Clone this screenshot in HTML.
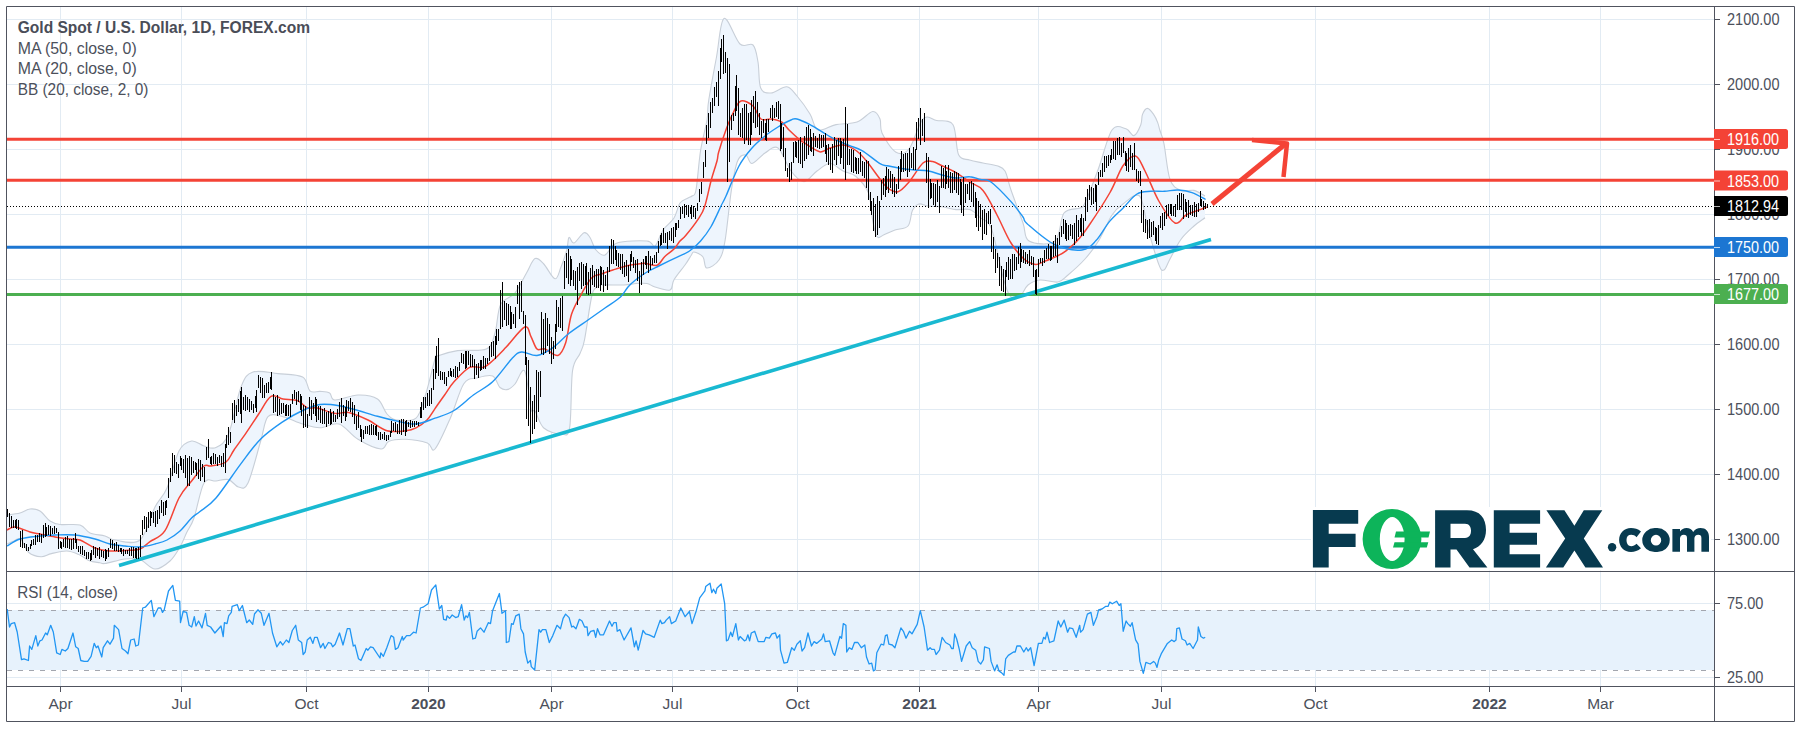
<!DOCTYPE html><html><head><meta charset="utf-8"><style>html,body{margin:0;padding:0;background:#fff;width:1803px;height:730px;overflow:hidden}svg{display:block}text{font-family:"Liberation Sans", sans-serif}</style></head><body>
<svg width="1803" height="730" viewBox="0 0 1803 730">
<rect x="0" y="0" width="1803" height="730" fill="#ffffff"/>
<path d="M60.5,7 V571 M60.5,572 V686 M181.5,7 V571 M181.5,572 V686 M306.5,7 V571 M306.5,572 V686 M428.5,7 V571 M428.5,572 V686 M551.5,7 V571 M551.5,572 V686 M672.5,7 V571 M672.5,572 V686 M797.5,7 V571 M797.5,572 V686 M919.5,7 V571 M919.5,572 V686 M1038.5,7 V571 M1038.5,572 V686 M1161.5,7 V571 M1161.5,572 V686 M1315.5,7 V571 M1315.5,572 V686 M1489.5,7 V571 M1489.5,572 V686 M1600.5,7 V571 M1600.5,572 V686 M7,19.5 H1714 M7,84.5 H1714 M7,149.5 H1714 M7,214.5 H1714 M7,279.5 H1714 M7,344.5 H1714 M7,409.5 H1714 M7,474.5 H1714 M7,539.5 H1714 M7,603.5 H1714 M7,677.5 H1714" stroke="#e2ebf3" stroke-width="1" fill="none"/>
<rect x="7" y="610" width="1707" height="60" fill="#e7f2fc"/>
<path d="M7,610.5 H1714 M7,670.5 H1714" stroke="#a3a6ae" stroke-width="1" stroke-dasharray="5,6" fill="none"/>
<path d="M7,515 C9.2,514.7 16.2,514 20,513 C23.8,512 26.7,509.3 30,509 C33.3,508.7 36.7,509 40,511 C43.3,513 46.7,518.8 50,521 C53.3,523.2 55,523.8 60,524.5 C65,525.2 75,523.6 80,525 C85,526.4 85.8,531.2 90,533 C94.2,534.8 100.8,534.8 105,536 C109.2,537.2 109.2,539.3 115,540 C120.8,540.7 133.3,545.5 140,540 C146.7,534.5 150.5,515.7 155,507 C159.5,498.3 163,497.3 167,488 C171,478.7 174.9,458.8 179,451 C183.1,443.2 187.4,441.8 191.6,441 C195.8,440.2 199.9,444.9 204,446 C208.1,447.1 211.9,449.5 216,447.5 C220.1,445.5 224.4,444.1 228.6,434 C232.8,423.9 236.9,397.3 241,387 C245.1,376.7 246.8,374.2 253,372 C259.2,369.8 269.7,372.8 278,373.6 C286.3,374.4 297.3,374.1 302.6,377 C307.9,379.9 307.1,388.6 310,391 C312.9,393.4 316.7,391.1 320,391.4 C323.3,391.7 327.1,391.6 329.6,393 C332.1,394.4 330.3,399.7 335,400 C339.7,400.3 350.9,395.2 358,395 C365.1,394.8 372.7,395.8 377.5,399 C382.3,402.2 383.8,410.5 387,414 C390.2,417.5 391.9,419.3 396.7,420 C401.5,420.7 411.2,422.4 416,418.2 C420.8,414 422.3,404.9 425.5,395 C428.7,385.1 433,365.3 435,358.8 C437,352.3 433.6,357.4 437.4,356 C441.1,354.6 449.4,351.8 457.5,350.6 C465.6,349.4 480.1,351.9 486.3,349 C492.6,346.1 492.6,340.4 495,333 C497.4,325.6 497.3,311.3 500.6,304.6 C503.9,297.9 510.7,298.3 515,293 C519.3,287.7 523.2,278.7 526.5,273 C529.8,267.3 532.1,260.1 535,258.6 C537.9,257.1 540.5,260.6 543.8,264 C547.1,267.4 552.1,278.3 555,278.8 C557.9,279.3 559,271.8 561,267 C563,262.2 565.5,254.9 566.8,250 C568.1,245.1 567.8,238.7 569,237.5 C570.2,236.3 571.5,243.8 574,243 C576.5,242.2 581.3,233.6 584,232.7 C586.7,231.8 588,234.6 590,237.5 C592,240.4 593.5,247.1 596,250 C598.5,252.9 601.5,256.2 605,255 C608.5,253.8 610,245.3 617,243 C624,240.7 640.7,240.5 647,241 C653.3,241.5 652.3,247.8 655,246 C657.7,244.2 659.8,234.7 663,230 C666.2,225.3 671.2,222.5 674,218 C676.8,213.5 677.7,206.3 680,203 C682.3,199.7 686,199.2 688,198 C690,196.8 690.7,197.3 692,196 C693.3,194.7 694.6,197.5 696,190 C697.4,182.5 698.7,162.7 700.5,151 C702.3,139.3 705.6,128.3 707,120 C708.4,111.7 707,111.5 708.6,101 C710.2,90.5 713.9,70.8 716.5,57 C719.1,43.2 720.1,20.7 724,18.5 C727.9,16.3 735.2,39.6 740,44 C744.8,48.4 750,42 753,45 C756,48 756.7,54.8 758,62 C759.3,69.2 758.5,82.8 760.7,88 C762.9,93.2 766.6,93.2 771,93 C775.4,92.8 782.5,86.3 786.8,86.8 C791.1,87.3 793.1,91.5 797,96 C800.9,100.5 806.5,108.3 810,114 C813.5,119.7 813.7,128.2 818,130 C822.3,131.8 829.5,125.9 836,124.6 C842.5,123.3 850.9,124.2 857,122 C863.1,119.8 868.9,112 872.7,111.5 C876.5,111 878.5,115.4 880,119 C881.5,122.6 879.4,127.5 882,133 C884.6,138.5 891.1,149.3 895.6,152 C900.1,154.7 904.4,154.5 909,149 C913.6,143.5 918.4,123.8 923,119 C927.6,114.2 931.7,119.5 936.7,120.5 C941.7,121.5 949.4,119 953,124.7 C956.6,130.4 955.8,148.9 958.6,154.8 C961.4,160.7 965.5,158.6 969.6,160 C973.7,161.4 978.4,162 983,163 C987.6,164 993.3,164.5 997,165.8 C1000.7,167.1 1002.7,167 1005,171 C1007.3,175 1008,181.3 1011,190 C1014,198.7 1020,214.5 1023,223 C1026,231.5 1023.7,238 1029,241 C1034.3,244 1049.2,245.7 1055,241 C1060.8,236.3 1059.8,218.5 1064,213 C1068.2,207.5 1076.5,209.7 1080,208 C1083.5,206.3 1081.9,209.6 1085,203 C1088.1,196.4 1094,180.7 1098.5,168.5 C1103,156.3 1107.4,136.6 1112,130 C1116.6,123.4 1122.3,127.9 1126,128.8 C1129.7,129.7 1131.5,136.3 1134,135.6 C1136.5,134.9 1139.4,128.2 1140.8,124.7 C1142.2,121.2 1141.4,117.1 1142.5,114.4 C1143.6,111.7 1145.6,108.4 1147.4,108.4 C1149.2,108.4 1151.9,112 1153.6,114.4 C1155.3,116.8 1156.7,120 1157.7,122.6 C1158.7,125.2 1158.8,126.5 1159.8,130 C1160.8,133.5 1162.3,135.6 1164,143.8 C1165.7,152.1 1167.2,171.7 1170,179.5 C1172.8,187.3 1176.7,188.6 1180.7,190.4 C1184.7,192.2 1190,189.5 1194,190.4 C1198,191.3 1203.2,195.1 1205,196 L1205,217.8  C1203.2,219.2 1198,222.3 1194,226 C1190,229.7 1184.7,234.2 1180.7,239.7 C1176.7,245.2 1172.8,253.9 1170,259 C1167.2,264.1 1165.9,269.1 1164,270 C1162.1,270.9 1161.5,271.3 1158.8,264.4 C1156.1,257.5 1151.2,240.2 1148,228.8 C1144.8,217.4 1143.8,200.1 1139.6,196 C1135.4,191.9 1127.6,200.8 1123,204 C1118.4,207.2 1116.1,208.8 1112,215 C1107.9,221.2 1103,233.7 1098.5,241 C1094,248.3 1090.1,253.3 1085,259 C1079.9,264.7 1072.5,271.2 1068,275 C1063.5,278.8 1062.7,281.2 1058,282 C1053.3,282.8 1045,279.5 1040,280 C1035,280.5 1031.3,282.3 1028,285 C1024.7,287.7 1023,294.2 1020,296 C1017,297.8 1012.9,299.5 1010,296 C1007.1,292.5 1005.6,286.2 1002.5,275 C999.4,263.8 995.2,238.3 991.5,228.8 C987.8,219.3 984.1,221 980.5,217.8 C976.9,214.6 973.7,211 969.6,209.6 C965.5,208.2 960.6,210.1 956,209.6 C951.4,209.1 946.7,207.4 942,206.8 C937.3,206.2 931.5,206.5 927.7,206 C923.9,205.5 921.5,203.2 919,204 C916.5,204.8 914.2,206.9 912.4,210.6 C910.6,214.3 910.9,222.8 908,226 C905.1,229.2 899,228.6 895,230 C891,231.4 887,233.5 884,234.7 C881,235.9 879.1,239.2 877.3,237 C875.4,234.8 874.4,228.9 872.9,221.6 C871.4,214.3 871.3,200.5 868.5,193 C865.7,185.5 860.2,180.2 856,176.5 C851.8,172.8 847.3,173.2 843,171 C838.7,168.8 834.3,163.5 830,163.5 C825.7,163.5 821.3,168 817,171 C812.7,174 808.3,181.7 804,181.7 C799.7,181.7 795.3,176.6 791,171 C786.7,165.4 782.3,151 778,148 C773.7,145 769.3,150.4 765,153 C760.7,155.6 755.2,163.2 752,163.5 C748.8,163.8 748.2,155.4 745.8,155 C743.4,154.6 740,155.2 737.6,161 C735.2,166.8 733.5,176.7 731.4,190 C729.3,203.3 727.1,229.3 725,241 C722.9,252.7 722,255.5 719,260 C716,264.5 709.4,268.5 706.7,268 C704,267.5 705.1,259.7 703,257 C700.9,254.3 695.9,252.3 694,252 C692.1,251.7 692.8,253 691.4,255 C690,257 688.6,259.9 685.7,264 C682.8,268.1 676.6,275.4 674,279.7 C671.4,284 673.2,288.8 670,290 C666.8,291.2 658.8,288.1 655,287 C651.2,285.9 650.2,284.1 647,283.5 C643.8,282.9 639.8,283.2 636,283.5 C632.2,283.8 629.8,284.8 624,285 C618.2,285.2 605.4,284.7 601,285 C596.6,285.3 599,285.3 597.5,287 C596,288.7 594.2,286.2 592,295 C589.8,303.8 586.5,330.1 584.5,339.8 C582.5,349.6 582,348.3 580,353.5 C578,358.7 574.2,358.6 572.5,371 C570.8,383.4 571.5,417.5 569.6,428 C567.7,438.5 565.3,434 561,434 C556.7,434 548.1,431.8 543.8,428 C539.5,424.2 537.1,414.2 535,411 C532.9,407.8 532.7,415.7 531,409 C529.3,402.3 527.4,375.2 524.7,371 C522,366.8 517.8,380.9 515,384 C512.2,387.1 510.5,388.8 508,389.4 C505.5,390 502.6,389.7 500,387.5 C497.4,385.3 496.4,377.6 492.6,376 C488.8,374.4 481.8,376.7 477,378 C472.2,379.3 468.2,377 463.8,383.7 C459.4,390.4 455.2,407.1 450.4,418 C445.6,428.9 438.8,444.8 435,449 C431.2,453.2 432.2,444.6 427.4,443 C422.6,441.4 412.4,439.6 406,439.3 C399.6,439 393.2,439.6 389,441.2 C384.8,442.8 386.2,449.3 381,449 C375.8,448.7 365,443.5 358,439.3 C351,435.1 345.3,425.9 339,424 C332.7,422.1 326.1,427.8 320,427.8 C313.9,427.8 308.8,425.9 302.6,424 C296.4,422.1 288.8,417.9 283,416.7 C277.2,415.5 271.7,412.6 268,416.7 C264.3,420.8 264,429.9 260.7,441 C257.4,452.1 251.7,475.3 248,483 C244.3,490.7 241.7,487.6 238.5,487 C235.3,486.4 232.3,480.6 228.6,479.6 C224.8,478.6 220.1,480.4 216,481 C211.9,481.6 207.7,476.8 204,483 C200.3,489.2 196.9,509.7 194,518 C191.1,526.3 189,527.8 186.7,532.6 C184.4,537.4 182.8,542.3 180,547 C177.2,551.7 174.2,557.3 170,561 C165.8,564.7 160,569.2 155,569 C150,568.8 145,561.2 140,559.5 C135,557.8 130.8,558.3 125,559 C119.2,559.7 109.2,562.9 105,563.5 C100.8,564.1 102.6,563.2 100,562.8 C97.4,562.3 92.9,562.2 89.4,560.8 C85.9,559.4 82.8,556.2 79,554.6 C75.2,553 71.4,551.2 66.8,551 C62.2,550.8 55.7,552.6 51.4,553.6 C47.1,554.6 44.8,556.9 41,556.7 C37.2,556.5 32.2,555.5 28.8,552.5 C25.4,549.5 23,540.9 20.5,539 C18,537.1 16.2,540.2 14,541 C11.8,541.8 8.2,543.5 7,544 Z" fill="#eef5fd" stroke="none"/>
<path d="M7,515 C9.2,514.7 16.2,514 20,513 C23.8,512 26.7,509.3 30,509 C33.3,508.7 36.7,509 40,511 C43.3,513 46.7,518.8 50,521 C53.3,523.2 55,523.8 60,524.5 C65,525.2 75,523.6 80,525 C85,526.4 85.8,531.2 90,533 C94.2,534.8 100.8,534.8 105,536 C109.2,537.2 109.2,539.3 115,540 C120.8,540.7 133.3,545.5 140,540 C146.7,534.5 150.5,515.7 155,507 C159.5,498.3 163,497.3 167,488 C171,478.7 174.9,458.8 179,451 C183.1,443.2 187.4,441.8 191.6,441 C195.8,440.2 199.9,444.9 204,446 C208.1,447.1 211.9,449.5 216,447.5 C220.1,445.5 224.4,444.1 228.6,434 C232.8,423.9 236.9,397.3 241,387 C245.1,376.7 246.8,374.2 253,372 C259.2,369.8 269.7,372.8 278,373.6 C286.3,374.4 297.3,374.1 302.6,377 C307.9,379.9 307.1,388.6 310,391 C312.9,393.4 316.7,391.1 320,391.4 C323.3,391.7 327.1,391.6 329.6,393 C332.1,394.4 330.3,399.7 335,400 C339.7,400.3 350.9,395.2 358,395 C365.1,394.8 372.7,395.8 377.5,399 C382.3,402.2 383.8,410.5 387,414 C390.2,417.5 391.9,419.3 396.7,420 C401.5,420.7 411.2,422.4 416,418.2 C420.8,414 422.3,404.9 425.5,395 C428.7,385.1 433,365.3 435,358.8 C437,352.3 433.6,357.4 437.4,356 C441.1,354.6 449.4,351.8 457.5,350.6 C465.6,349.4 480.1,351.9 486.3,349 C492.6,346.1 492.6,340.4 495,333 C497.4,325.6 497.3,311.3 500.6,304.6 C503.9,297.9 510.7,298.3 515,293 C519.3,287.7 523.2,278.7 526.5,273 C529.8,267.3 532.1,260.1 535,258.6 C537.9,257.1 540.5,260.6 543.8,264 C547.1,267.4 552.1,278.3 555,278.8 C557.9,279.3 559,271.8 561,267 C563,262.2 565.5,254.9 566.8,250 C568.1,245.1 567.8,238.7 569,237.5 C570.2,236.3 571.5,243.8 574,243 C576.5,242.2 581.3,233.6 584,232.7 C586.7,231.8 588,234.6 590,237.5 C592,240.4 593.5,247.1 596,250 C598.5,252.9 601.5,256.2 605,255 C608.5,253.8 610,245.3 617,243 C624,240.7 640.7,240.5 647,241 C653.3,241.5 652.3,247.8 655,246 C657.7,244.2 659.8,234.7 663,230 C666.2,225.3 671.2,222.5 674,218 C676.8,213.5 677.7,206.3 680,203 C682.3,199.7 686,199.2 688,198 C690,196.8 690.7,197.3 692,196 C693.3,194.7 694.6,197.5 696,190 C697.4,182.5 698.7,162.7 700.5,151 C702.3,139.3 705.6,128.3 707,120 C708.4,111.7 707,111.5 708.6,101 C710.2,90.5 713.9,70.8 716.5,57 C719.1,43.2 720.1,20.7 724,18.5 C727.9,16.3 735.2,39.6 740,44 C744.8,48.4 750,42 753,45 C756,48 756.7,54.8 758,62 C759.3,69.2 758.5,82.8 760.7,88 C762.9,93.2 766.6,93.2 771,93 C775.4,92.8 782.5,86.3 786.8,86.8 C791.1,87.3 793.1,91.5 797,96 C800.9,100.5 806.5,108.3 810,114 C813.5,119.7 813.7,128.2 818,130 C822.3,131.8 829.5,125.9 836,124.6 C842.5,123.3 850.9,124.2 857,122 C863.1,119.8 868.9,112 872.7,111.5 C876.5,111 878.5,115.4 880,119 C881.5,122.6 879.4,127.5 882,133 C884.6,138.5 891.1,149.3 895.6,152 C900.1,154.7 904.4,154.5 909,149 C913.6,143.5 918.4,123.8 923,119 C927.6,114.2 931.7,119.5 936.7,120.5 C941.7,121.5 949.4,119 953,124.7 C956.6,130.4 955.8,148.9 958.6,154.8 C961.4,160.7 965.5,158.6 969.6,160 C973.7,161.4 978.4,162 983,163 C987.6,164 993.3,164.5 997,165.8 C1000.7,167.1 1002.7,167 1005,171 C1007.3,175 1008,181.3 1011,190 C1014,198.7 1020,214.5 1023,223 C1026,231.5 1023.7,238 1029,241 C1034.3,244 1049.2,245.7 1055,241 C1060.8,236.3 1059.8,218.5 1064,213 C1068.2,207.5 1076.5,209.7 1080,208 C1083.5,206.3 1081.9,209.6 1085,203 C1088.1,196.4 1094,180.7 1098.5,168.5 C1103,156.3 1107.4,136.6 1112,130 C1116.6,123.4 1122.3,127.9 1126,128.8 C1129.7,129.7 1131.5,136.3 1134,135.6 C1136.5,134.9 1139.4,128.2 1140.8,124.7 C1142.2,121.2 1141.4,117.1 1142.5,114.4 C1143.6,111.7 1145.6,108.4 1147.4,108.4 C1149.2,108.4 1151.9,112 1153.6,114.4 C1155.3,116.8 1156.7,120 1157.7,122.6 C1158.7,125.2 1158.8,126.5 1159.8,130 C1160.8,133.5 1162.3,135.6 1164,143.8 C1165.7,152.1 1167.2,171.7 1170,179.5 C1172.8,187.3 1176.7,188.6 1180.7,190.4 C1184.7,192.2 1190,189.5 1194,190.4 C1198,191.3 1203.2,195.1 1205,196" stroke="#c8cfd8" stroke-width="1.1" fill="none"/>
<path d="M7,544 C8.2,543.5 11.8,541.8 14,541 C16.2,540.2 18,537.1 20.5,539 C23,540.9 25.4,549.5 28.8,552.5 C32.2,555.5 37.2,556.5 41,556.7 C44.8,556.9 47.1,554.6 51.4,553.6 C55.7,552.6 62.2,550.8 66.8,551 C71.4,551.2 75.2,553 79,554.6 C82.8,556.2 85.9,559.4 89.4,560.8 C92.9,562.2 97.4,562.3 100,562.8 C102.6,563.2 100.8,564.1 105,563.5 C109.2,562.9 119.2,559.7 125,559 C130.8,558.3 135,557.8 140,559.5 C145,561.2 150,568.8 155,569 C160,569.2 165.8,564.7 170,561 C174.2,557.3 177.2,551.7 180,547 C182.8,542.3 184.4,537.4 186.7,532.6 C189,527.8 191.1,526.3 194,518 C196.9,509.7 200.3,489.2 204,483 C207.7,476.8 211.9,481.6 216,481 C220.1,480.4 224.8,478.6 228.6,479.6 C232.3,480.6 235.3,486.4 238.5,487 C241.7,487.6 244.3,490.7 248,483 C251.7,475.3 257.4,452.1 260.7,441 C264,429.9 264.3,420.8 268,416.7 C271.7,412.6 277.2,415.5 283,416.7 C288.8,417.9 296.4,422.1 302.6,424 C308.8,425.9 313.9,427.8 320,427.8 C326.1,427.8 332.7,422.1 339,424 C345.3,425.9 351,435.1 358,439.3 C365,443.5 375.8,448.7 381,449 C386.2,449.3 384.8,442.8 389,441.2 C393.2,439.6 399.6,439 406,439.3 C412.4,439.6 422.6,441.4 427.4,443 C432.2,444.6 431.2,453.2 435,449 C438.8,444.8 445.6,428.9 450.4,418 C455.2,407.1 459.4,390.4 463.8,383.7 C468.2,377 472.2,379.3 477,378 C481.8,376.7 488.8,374.4 492.6,376 C496.4,377.6 497.4,385.3 500,387.5 C502.6,389.7 505.5,390 508,389.4 C510.5,388.8 512.2,387.1 515,384 C517.8,380.9 522,366.8 524.7,371 C527.4,375.2 529.3,402.3 531,409 C532.7,415.7 532.9,407.8 535,411 C537.1,414.2 539.5,424.2 543.8,428 C548.1,431.8 556.7,434 561,434 C565.3,434 567.7,438.5 569.6,428 C571.5,417.5 570.8,383.4 572.5,371 C574.2,358.6 578,358.7 580,353.5 C582,348.3 582.5,349.6 584.5,339.8 C586.5,330.1 589.8,303.8 592,295 C594.2,286.2 596,288.7 597.5,287 C599,285.3 596.6,285.3 601,285 C605.4,284.7 618.2,285.2 624,285 C629.8,284.8 632.2,283.8 636,283.5 C639.8,283.2 643.8,282.9 647,283.5 C650.2,284.1 651.2,285.9 655,287 C658.8,288.1 666.8,291.2 670,290 C673.2,288.8 671.4,284 674,279.7 C676.6,275.4 682.8,268.1 685.7,264 C688.6,259.9 690,257 691.4,255 C692.8,253 692.1,251.7 694,252 C695.9,252.3 700.9,254.3 703,257 C705.1,259.7 704,267.5 706.7,268 C709.4,268.5 716,264.5 719,260 C722,255.5 722.9,252.7 725,241 C727.1,229.3 729.3,203.3 731.4,190 C733.5,176.7 735.2,166.8 737.6,161 C740,155.2 743.4,154.6 745.8,155 C748.2,155.4 748.8,163.8 752,163.5 C755.2,163.2 760.7,155.6 765,153 C769.3,150.4 773.7,145 778,148 C782.3,151 786.7,165.4 791,171 C795.3,176.6 799.7,181.7 804,181.7 C808.3,181.7 812.7,174 817,171 C821.3,168 825.7,163.5 830,163.5 C834.3,163.5 838.7,168.8 843,171 C847.3,173.2 851.8,172.8 856,176.5 C860.2,180.2 865.7,185.5 868.5,193 C871.3,200.5 871.4,214.3 872.9,221.6 C874.4,228.9 875.4,234.8 877.3,237 C879.1,239.2 881,235.9 884,234.7 C887,233.5 891,231.4 895,230 C899,228.6 905.1,229.2 908,226 C910.9,222.8 910.6,214.3 912.4,210.6 C914.2,206.9 916.5,204.8 919,204 C921.5,203.2 923.9,205.5 927.7,206 C931.5,206.5 937.3,206.2 942,206.8 C946.7,207.4 951.4,209.1 956,209.6 C960.6,210.1 965.5,208.2 969.6,209.6 C973.7,211 976.9,214.6 980.5,217.8 C984.1,221 987.8,219.3 991.5,228.8 C995.2,238.3 999.4,263.8 1002.5,275 C1005.6,286.2 1007.1,292.5 1010,296 C1012.9,299.5 1017,297.8 1020,296 C1023,294.2 1024.7,287.7 1028,285 C1031.3,282.3 1035,280.5 1040,280 C1045,279.5 1053.3,282.8 1058,282 C1062.7,281.2 1063.5,278.8 1068,275 C1072.5,271.2 1079.9,264.7 1085,259 C1090.1,253.3 1094,248.3 1098.5,241 C1103,233.7 1107.9,221.2 1112,215 C1116.1,208.8 1118.4,207.2 1123,204 C1127.6,200.8 1135.4,191.9 1139.6,196 C1143.8,200.1 1144.8,217.4 1148,228.8 C1151.2,240.2 1156.1,257.5 1158.8,264.4 C1161.5,271.3 1162.1,270.9 1164,270 C1165.9,269.1 1167.2,264.1 1170,259 C1172.8,253.9 1176.7,245.2 1180.7,239.7 C1184.7,234.2 1190,229.7 1194,226 C1198,222.3 1203.2,219.2 1205,217.8" stroke="#c8cfd8" stroke-width="1.1" fill="none"/>
<path d="M7,206.5 H1714" stroke="#000" stroke-width="1" stroke-dasharray="1,2" shape-rendering="crispEdges"/>
<path d="M7,139.3 H1714" stroke="#f44336" stroke-width="3"/>
<path d="M7,180.3 H1714" stroke="#f44336" stroke-width="3"/>
<path d="M7,247.3 H1714" stroke="#1c76d2" stroke-width="3"/>
<path d="M7,294.5 H1714" stroke="#4caf50" stroke-width="3"/>
<path d="M7,530 C8.3,529.5 11.2,526.7 15,527 C18.8,527.3 25.8,530.8 30,532 C34.2,533.2 35.8,533.2 40,534 C44.2,534.8 50,536.2 55,537 C60,537.8 65.8,538.5 70,539 C74.2,539.5 75.8,538.5 80,540 C84.2,541.5 90,546.2 95,548 C100,549.8 105,550.6 110,551 C115,551.4 120,550.8 125,550.5 C130,550.2 135.8,550.5 140,549 C144.2,547.5 145.8,544.6 150,541.6 C154.2,538.6 160.2,538 165,530.7 C169.8,523.4 174.6,506.3 179,498 C183.4,489.7 187.4,486.3 191.6,481 C195.8,475.7 200.8,468.5 204,466 C207.2,463.5 207.3,466.7 211,466 C214.7,465.3 222.2,464.7 226,462 C229.8,459.3 230.6,454.9 234,450 C237.4,445.1 242.2,438.7 246.3,432.7 C250.4,426.7 254.6,420.1 258.7,414 C262.8,407.9 266.9,398.9 271,396.4 C275.1,393.9 278.6,398.3 283,399 C287.4,399.7 293.6,399.2 297.7,400.7 C301.8,402.2 304.4,406.8 307.6,408 C310.8,409.2 312.4,407.1 317,408 C321.6,408.9 329.7,412.6 335,413.4 C340.3,414.1 343.3,411.4 348.8,412.5 C354.3,413.6 361.6,417 368,420 C374.4,423 380.7,428.9 387,430.7 C393.3,432.5 401.2,431.2 406,430.7 C410.8,430.2 412.5,429.6 416,427.8 C419.5,426 423.8,423.2 427,420 C430.2,416.8 432.1,412.8 435,408.6 C437.9,404.4 441.4,399.5 444.6,395 C447.8,390.5 449.8,386.4 454,381.8 C458.2,377.2 464.8,369.8 469.6,367.4 C474.4,365 479.2,368.5 483,367.4 C486.8,366.3 488.8,364 492.6,360.7 C496.4,357.4 500.6,352.9 506,347.3 C511.4,341.7 520.5,328.8 524.7,327 C528.9,325.2 529,332.9 531,336.6 C533,340.3 534.7,346.9 537,349 C539.3,351.1 541.5,347.9 545,349 C548.5,350.1 554.4,356.5 557.8,355.5 C561.2,354.5 563.3,349.9 565.6,343 C567.9,336.1 568.9,322.3 571.6,314 C574.3,305.7 578.6,299 582,293 C585.4,287 588.6,281 591.8,277.8 C595,274.6 597.8,275.3 601.3,274 C604.8,272.7 608.7,271.3 612.8,270 C616.9,268.7 622.2,266.9 626,266 C629.8,265.1 632.6,264.7 635.8,264.3 C639,263.9 641.9,263.2 645.4,263.4 C648.9,263.6 653.8,266.4 657,265.3 C660.2,264.2 661.8,259.4 664.6,256.7 C667.4,254 671.4,251.6 674,249 C676.6,246.4 678,243.2 680,241 C682,238.8 682.6,239.3 685.7,235.6 C688.8,231.9 695.3,223.6 698.5,218.7 C701.7,213.8 702.7,212.6 704.7,206.4 C706.8,200.2 708.8,189.3 710.8,181.7 C712.8,174.1 715.7,165.9 717,161 C718.3,156.1 717.2,157.2 718.7,152 C720.2,146.8 723.5,136.4 726,129.7 C728.5,122.9 731.3,116.3 733.8,111.5 C736.3,106.7 737.8,101.9 741,101 C744.2,100.1 749.7,103 753,106 C756.3,109 758,116.8 761,119 C764,121.2 767.6,118.5 771,119 C774.4,119.5 778.6,120.2 781.6,122 C784.6,123.8 785.9,127 789,130 C792.1,133 797.5,137.9 800,140 C802.5,142.1 800.7,140.7 804,142.7 C807.3,144.7 815.4,150.9 819.7,151.8 C824,152.7 826.1,149.1 830,148 C833.9,146.9 838.7,144.6 843,145 C847.3,145.4 852.1,147.8 856,150.5 C859.9,153.2 862.5,156.2 866.5,161 C870.5,165.8 876.5,174.6 880,179 C883.5,183.4 884.4,185.6 887.4,187.7 C890.4,189.8 894.4,192.8 898,191.8 C901.6,190.9 904.8,186.8 909,182 C913.2,177.2 919.1,166.4 923,163 C926.9,159.6 929.4,161.1 932.6,161.6 C935.8,162.1 938.1,164 942,165.8 C945.9,167.6 951.4,169.9 956,172.6 C960.6,175.3 965.1,179 969.6,182 C974.1,185 978.4,184.9 983,190.4 C987.6,195.9 992.4,206.3 997,215 C1001.6,223.7 1006.2,235.2 1010.7,242.5 C1015.2,249.8 1019.9,255.3 1024,259 C1028.1,262.6 1032.2,264 1035.5,264.4 C1038.8,264.8 1040,263 1043.7,261.6 C1047.4,260.2 1053.7,257.8 1057.4,256 C1061.1,254.2 1062.7,253.3 1066,250.8 C1069.3,248.3 1073.2,245.1 1077,241 C1080.8,236.9 1083.1,234.1 1088.6,226 C1094.1,217.9 1104.3,202.5 1110,192.5 C1115.7,182.5 1118.8,171.9 1123,165.8 C1127.2,159.7 1131.8,155.1 1135.5,156 C1139.2,156.9 1141.1,163.5 1145,171 C1148.9,178.5 1153.8,192.3 1158.8,201 C1163.8,209.7 1170.5,220.7 1175,223 C1179.5,225.3 1181.8,217.2 1186,215 C1190.2,212.8 1196.5,210.9 1200,209.6 C1203.5,208.3 1205.6,207.4 1206.7,207" stroke="#f44336" stroke-width="1.5" fill="none"/>
<path d="M7,546 C9.2,544.8 14.5,540.7 20,539 C25.5,537.3 34.2,536.7 40,536 C45.8,535.3 49.2,535.2 55,535 C60.8,534.8 68.3,534.3 75,535 C81.7,535.7 89.2,537.5 95,539 C100.8,540.5 105,542.8 110,544 C115,545.2 120,545.5 125,546 C130,546.5 135,547.3 140,547 C145,546.7 150.5,545.2 155,544 C159.5,542.8 162.8,542.2 167,540 C171.2,537.8 175.9,534.7 180,531 C184.1,527.3 188.3,521.2 191.6,518 C194.9,514.8 195.9,514.8 200,511.5 C204.1,508.2 209.2,506 216,498 C222.8,490 233.6,473.4 241,463.6 C248.4,453.8 253.7,446 260.7,439 C267.7,432 276,426.4 283,421.6 C290,416.9 296.4,413.4 302.6,410.5 C308.8,407.6 313.9,405.3 320,404.5 C326.1,403.7 332.7,404.7 339,405.7 C345.3,406.7 351.6,408.7 358,410.5 C364.4,412.3 371.1,414.6 377.5,416.3 C383.9,418.1 390.3,419.7 396.7,421 C403.1,422.3 409.6,424.5 416,424 C422.4,423.5 428.7,420.4 435,418.2 C441.3,415.9 447.6,414.4 454,410.5 C460.4,406.6 467,399.8 473.4,395 C479.8,390.2 486.2,387.8 492.6,381.8 C499,375.8 507,363.8 511.8,358.8 C516.6,353.8 517.3,352.6 521.5,352 C525.7,351.4 531.8,356.2 537,355.5 C542.2,354.8 547.7,351.3 553,347.6 C558.3,343.9 563,338.1 568.8,333.5 C574.6,328.9 582,324.2 588,320 C594,315.8 599.6,311.8 605,308 C610.4,304.2 616.7,300.5 620.5,297 C624.3,293.5 625.5,289.9 628,287 C630.5,284.1 632.6,282.2 635.8,279.7 C639,277.2 643.2,274.3 647,272 C650.8,269.7 654.3,268.2 658.8,266 C663.3,263.8 668.9,261.1 674,258.6 C679.1,256.1 685.1,253.9 689.5,251 C693.9,248.1 697.1,245 700.6,241 C704.1,237 707.4,232.8 710.8,227 C714.2,221.2 718.5,211.2 721,206 C723.5,200.8 723,202.7 726,196 C729,189.3 734.7,174 739,166 C743.3,158 747.7,153 752,148 C756.3,143 760.7,139.5 765,136 C769.3,132.5 773.7,129.7 778,127 C782.3,124.3 787.8,121.3 791,120 C794.2,118.7 793.8,118.2 797,119 C800.2,119.8 805.7,122.4 810,124.6 C814.3,126.8 818.7,129.8 823,132.4 C827.3,135 831.7,137.8 836,140 C840.3,142.2 844.7,143.6 849,145.4 C853.3,147.2 856.8,147.6 862,150.6 C867.2,153.6 875.8,161.1 880,163.6 C884.2,166.1 883.9,165 887.4,165.8 C890.9,166.6 896.4,167.8 901,168.5 C905.6,169.2 910.2,169.6 914.8,170 C919.4,170.4 924,170.2 928.5,171 C933,171.8 937.4,173.8 942,175 C946.6,176.2 951.4,177.7 956,178 C960.6,178.3 965.5,176.4 969.6,176.7 C973.7,176.9 976.9,178.6 980.5,179.5 C984.1,180.4 985.9,178.3 991,182 C996.1,185.7 1005.7,195.8 1011,201.6 C1016.3,207.4 1020.3,213.3 1023,217 C1025.7,220.7 1022.1,219.4 1027.4,224 C1032.7,228.6 1045.7,240.4 1054.8,244.7 C1063.9,249 1075.1,250.7 1082,250 C1088.9,249.3 1091.4,245.4 1096,240.6 C1100.6,235.8 1105,226.9 1109.6,221.4 C1114.2,215.9 1118.8,212.3 1123.4,207.7 C1128,203.1 1132.4,196.7 1137,194 C1141.6,191.3 1146.2,191.8 1150.8,191.3 C1155.4,190.9 1160,191.5 1164.5,191.3 C1169,191.1 1173.4,189.8 1178,190 C1182.6,190.2 1187.4,191 1192,192.6 C1196.6,194.2 1203.3,198.3 1205.6,199.5" stroke="#2196f3" stroke-width="1.4" fill="none"/>
<path d="M119,565.5 L1211,239.5" stroke="#19b9d1" stroke-width="3.6" stroke-linecap="butt"/>
<path d="M7.5,509 V517 M9.5,513 V527 M11.5,515.5 V527.7 M13.5,519.7 V528.4 M15.5,520.1 V528.3 M16.5,519 V528.8 M18.5,519.7 V530.1 M20.5,531 V547 M22.5,530.1 V548.3 M24.5,543 V547.5 M26.5,543.9 V550.5 M28.5,546.5 V550.5 M30.5,543.7 V549.2 M31.5,540.2 V546.4 M33.5,538.8 V545.1 M35.5,535.2 V545.2 M37.5,534.6 V542.1 M39.5,532.9 V542.4 M41.5,533.6 V542.8 M43.5,525.4 V538.1 M45.5,523.4 V537.1 M46.5,526.7 V535.8 M48.5,525.4 V534.9 M50.5,526.4 V535.8 M52.5,528 V534.1 M54.5,526.3 V534.3 M56.5,527.7 V533.2 M58.5,532 V548.5 M60.5,541.3 V548.1 M61.5,541.7 V549.1 M63.5,539.1 V547 M65.5,537.3 V548.4 M67.5,536.1 V547.8 M69.5,539.2 V548.5 M71.5,539.4 V550.3 M73.5,537.9 V548.9 M75.5,533 V543 M76.5,539.4 V548.6 M78.5,545.7 V551.8 M80.5,545.7 V554.3 M82.5,545.6 V555.4 M84.5,549.7 V555.5 M86.5,552 V559.4 M88.5,552.1 V559.3 M90.5,552.6 V561.2 M91.5,550.3 V560.4 M93.5,546.1 V555.2 M95.5,546.8 V558 M97.5,548.2 V556 M99.5,547.3 V558.5 M101.5,549.8 V557.2 M103.5,551.4 V557.9 M105.5,549.4 V560.6 M106.5,550.1 V559 M108.5,548.2 V556.8 M110.5,538.6 V548.3 M112.5,540.2 V548.5 M114.5,542.7 V550.5 M116.5,542 V551 M118.5,544.6 V551.7 M120.5,547.8 V552.4 M121.5,547.6 V553.5 M123.5,549.1 V555.8 M125.5,549.8 V554.1 M127.5,549.8 V554.4 M129.5,548.3 V556.1 M131.5,547.3 V555.6 M133.5,547.1 V558.1 M135.5,547.6 V558.2 M136.5,548.2 V559.2 M138.5,546.7 V559.2 M140.5,535 V557 M142.5,519.9 V534.6 M144.5,516.4 V529.4 M146.5,517 V531.6 M148.5,511.8 V528.1 M150.5,510.6 V525.5 M151.5,512 V518.1 M153.5,511.7 V522.8 M155.5,511.1 V527 M157.5,509.6 V524.2 M159.5,505.8 V519.3 M161.5,499.7 V512.5 M163.5,501.9 V515.7 M165.5,501.2 V514.6 M166.5,500.4 V508.2 M168.5,478 V498 M170.5,467.7 V481.8 M172.5,452.5 V475.6 M174.5,455.3 V472.9 M176.5,461.5 V473.9 M178.5,463.6 V478.1 M180.5,455.6 V466.2 M181.5,457.7 V470.2 M183.5,459.2 V473.3 M185.5,455.2 V478.1 M187.5,458 V485.8 M189.5,456 V486 M191.5,456.9 V475.1 M193.5,460.9 V472.5 M195.5,461.9 V470.2 M196.5,463.3 V476.2 M198.5,459.1 V478.8 M200.5,460 V480.5 M202.5,464.4 V476.7 M204.5,467.2 V481.5 M206.5,446.6 V459.8 M208.5,439.3 V458.1 M210.5,456.9 V463.7 M211.5,456.2 V465.1 M213.5,453.4 V463.7 M215.5,454.2 V463.6 M217.5,457.2 V465.5 M219.5,454.5 V462.9 M221.5,456 V466.6 M223.5,453.2 V466.7 M225.5,444 V473 M226.5,434.8 V448.3 M228.5,426.8 V445 M230.5,432.4 V443.1 M232.5,403.4 V420.1 M234.5,399.8 V422.6 M236.5,404.5 V416.1 M238.5,399.2 V412.3 M240.5,391.4 V414.1 M241.5,387 V423 M243.5,396.8 V410.1 M245.5,395.1 V410.5 M247.5,397.1 V409.7 M249.5,399.3 V411.5 M251.5,400.8 V410.2 M253.5,403.8 V413.2 M255.5,395.9 V408 M256.5,390 V412 M258.5,375.2 V388.4 M260.5,376.9 V392.8 M262.5,378.2 V398.4 M264.5,384.7 V397.6 M266.5,382.6 V393 M268.5,382.3 V392.6 M270.5,377 V388.5 M271.5,372 V389.6 M273.5,394.4 V412.5 M275.5,397.4 V412.1 M277.5,394.7 V415.8 M279.5,399.1 V414.5 M281.5,403 V413.9 M283.5,402.5 V413.2 M285.5,405.4 V415.8 M286.5,404.4 V416.3 M288.5,404.5 V415.9 M290.5,404.2 V416.9 M292.5,393.7 V403.8 M294.5,389.9 V399.3 M296.5,392.4 V405 M298.5,390.8 V402.1 M300.5,393.8 V409.7 M301.5,396.4 V416.1 M303.5,405.2 V427.9 M305.5,405.8 V427.4 M307.5,413.6 V428.1 M309.5,397.3 V415.9 M311.5,400.4 V419.9 M313.5,402.9 V414.3 M315.5,397.2 V415.7 M316.5,399.3 V421.8 M318.5,406.1 V419.7 M320.5,405.8 V423.1 M322.5,408.9 V424 M324.5,407.5 V424.4 M326.5,411.6 V426.5 M328.5,411.2 V424.2 M330.5,408.7 V425.1 M331.5,413 V424.3 M333.5,410.5 V421.9 M335.5,414.9 V421.6 M337.5,408.5 V418.9 M339.5,402.2 V417.2 M341.5,398.4 V423.4 M343.5,404.5 V416.3 M345.5,406.8 V421 M346.5,399.5 V416.5 M348.5,400.8 V410.5 M350.5,398 V412.4 M352.5,402 V417.3 M354.5,404.8 V423.8 M356.5,415.8 V429.7 M358.5,412.2 V428.2 M360.5,425.3 V436.8 M361.5,429.2 V442.3 M363.5,430.3 V438.8 M365.5,425.7 V434.2 M367.5,426.3 V434.2 M369.5,424.6 V434.7 M371.5,424.1 V434.9 M373.5,424.8 V434.8 M375.5,426.4 V435.1 M376.5,425.1 V435.9 M378.5,431.9 V440 M380.5,431.9 V440.3 M382.5,433.6 V439 M384.5,432.3 V439.6 M386.5,434.9 V441 M388.5,434.8 V440.4 M390.5,430.8 V437.2 M391.5,420.6 V432.5 M393.5,422.9 V430.7 M395.5,421.6 V432.3 M397.5,424.3 V434.1 M399.5,420.1 V433.6 M401.5,418.6 V435.1 M403.5,419.3 V432.1 M405.5,420.8 V435.6 M406.5,420.4 V432.2 M408.5,421.9 V426.8 M410.5,420.4 V427.7 M412.5,420.8 V426.8 M414.5,420.9 V426.5 M416.5,421.3 V425.3 M418.5,422.4 V426.4 M420.5,406.8 V417.5 M421.5,401.7 V418 M423.5,396.8 V409.7 M425.5,397 V407.8 M427.5,393.4 V406.4 M429.5,390.1 V406.4 M431.5,388.4 V404.4 M433.5,369.3 V389.7 M435.5,356 V379.1 M436.5,346.2 V372.9 M438.5,337.7 V376 M440.5,370.6 V379.9 M442.5,372 V379.9 M444.5,372 V383.9 M446.5,376.5 V385.8 M448.5,371.1 V377 M450.5,367.9 V376.4 M451.5,370.7 V377.4 M453.5,369.4 V376.8 M455.5,365.8 V378.3 M457.5,367 V376.8 M459.5,362.1 V370.8 M461.5,352.8 V362.6 M463.5,353.7 V364.4 M465.5,351.2 V369 M466.5,350.9 V367.5 M468.5,351 V365 M470.5,354.2 V366.9 M472.5,355 V367 M474.5,359 V378.6 M476.5,363.8 V375.4 M478.5,363 V377.8 M480.5,360.2 V370.9 M481.5,359.9 V369.5 M483.5,356.1 V368.8 M485.5,358.4 V368.5 M487.5,357.8 V364.3 M489.5,346 V361.3 M491.5,342.2 V357.2 M493.5,340.9 V355.9 M495.5,336.3 V359.1 M496.5,328.5 V344.6 M498.5,328.9 V340.9 M500.5,290.1 V329 M502.5,282.1 V326.9 M504.5,301.3 V320.3 M506.5,303.4 V325.6 M508.5,304 V324.8 M510.5,305.7 V329 M511.5,311.7 V329.1 M513.5,314.3 V324 M515.5,306.6 V327.7 M517.5,284.6 V304.4 M519.5,281.7 V318.9 M521.5,280.5 V312 M523.5,311 V324 M525.5,314.5 V365 M526.5,357.2 V418.7 M528.5,359.9 V425.9 M530.5,386.9 V442.5 M532.5,400.9 V433.6 M534.5,394.6 V428.5 M536.5,369.8 V421.7 M538.5,372.2 V411.5 M540.5,371 V396.5 M541.5,312.3 V354.2 M543.5,318.5 V355.4 M545.5,312.8 V352.9 M547.5,317.6 V345.7 M549.5,324.4 V354.1 M551.5,337.4 V364.4 M553.5,340.9 V359.3 M555.5,324.1 V349.4 M556.5,299.6 V331.8 M558.5,307.1 V327.4 M560.5,297.6 V327.7 M562.5,295.5 V330.7 M564.5,261.4 V288.6 M566.5,253.2 V278.4 M568.5,248.5 V283.5 M570.5,255.9 V285.8 M571.5,258.8 V280.3 M573.5,269.5 V286 M575.5,271 V289.8 M577.5,267 V305 M579.5,262.8 V281 M581.5,262.1 V288.5 M583.5,264 V285.8 M585.5,266 V285.4 M586.5,262.5 V294 M588.5,271.6 V294.9 M590.5,268.1 V294.3 M592.5,264.8 V284.5 M594.5,270.6 V287 M596.5,268.6 V287.5 M598.5,268.5 V287.6 M600.5,265.8 V290.5 M601.5,267 V284.7 M603.5,270.3 V291.7 M605.5,274.8 V285.6 M607.5,267.2 V290 M609.5,245.5 V272.1 M611.5,238.6 V263.9 M613.5,240.1 V264.1 M615.5,245.5 V260.3 M616.5,250.2 V266.1 M618.5,252.8 V266.5 M620.5,254.2 V270.4 M622.5,253.5 V273.5 M624.5,262 V277.4 M626.5,260.1 V276.1 M628.5,264.9 V282.2 M630.5,254.4 V271 M631.5,251 V262.3 M633.5,257.3 V267.7 M635.5,259.6 V273.2 M637.5,259.1 V281.2 M639.5,270.6 V292.6 M641.5,261.9 V285.2 M643.5,258.8 V275.1 M645.5,255.8 V265.3 M646.5,255.9 V268.6 M648.5,250.7 V273.2 M650.5,255.5 V269.8 M652.5,257.8 V264.9 M654.5,254.8 V263.2 M656.5,252.3 V262.7 M658.5,241.4 V252.8 M660.5,235.1 V245.8 M661.5,233.1 V245.2 M663.5,228.3 V242.8 M665.5,233 V243 M667.5,231.9 V249.4 M669.5,230.9 V239.5 M671.5,228 V241.1 M673.5,227 V242.5 M675.5,222.7 V237.3 M676.5,223 V230.2 M678.5,219.9 V228.3 M680.5,206.5 V219.3 M682.5,207.2 V214.2 M684.5,204.2 V217.9 M686.5,205.4 V215 M688.5,205.3 V217.3 M690.5,206.8 V214.3 M691.5,204.9 V219 M693.5,205.7 V217.4 M695.5,207.7 V218.8 M697.5,203.4 V211.1 M699.5,188.8 V201.9 M701.5,181.9 V193.9 M703.5,162.1 V178.1 M705.5,149.6 V167.4 M706.5,125.3 V143.9 M708.5,113.3 V138.4 M710.5,102.2 V127.7 M712.5,98.3 V112.7 M714.5,86.8 V106 M716.5,81.6 V96.6 M718.5,71 V106 M720.5,48 V78.5 M721.5,38.8 V62 M723.5,34.7 V74.4 M725.5,51.8 V73 M727.5,57.9 V181.6 M729.5,63.9 V161.5 M731.5,115 V129.6 M733.5,112.9 V121.4 M735.5,86 V115.9 M736.5,75.4 V111.4 M738.5,88.2 V134.8 M740.5,113.1 V136.7 M742.5,108.2 V138.4 M744.5,103.8 V144 M746.5,103.7 V140.3 M748.5,112.8 V145.1 M750.5,112 V145 M751.5,100.1 V135.1 M753.5,96.4 V123.2 M755.5,91.4 V127.6 M757.5,102 V126.6 M759.5,113.4 V134.7 M761.5,120.8 V138.4 M763.5,118.5 V133.2 M765.5,122.8 V140.3 M766.5,119 V141.1 M768.5,118.8 V131.9 M770.5,108.3 V117.7 M772.5,104.6 V121.2 M774.5,107.8 V118.2 M776.5,102 V116.8 M778.5,101.3 V119.3 M780.5,103.7 V150.6 M781.5,122.5 V149 M783.5,127.1 V157 M785.5,148.4 V171 M787.5,167.9 V176.8 M789.5,162.7 V182.1 M791.5,162.2 V180.1 M793.5,141.7 V162.5 M795.5,140.9 V157.4 M796.5,141.5 V157.7 M798.5,139.7 V163.3 M800.5,136.9 V163.7 M802.5,142.5 V167.6 M804.5,136.3 V160.8 M806.5,126.7 V159 M808.5,124.9 V154.7 M810.5,129 V150.8 M811.5,136.7 V152 M813.5,133.3 V156.3 M815.5,136.1 V147.4 M817.5,137.9 V148.4 M819.5,133.8 V149.3 M821.5,135.2 V148.3 M823.5,135.1 V147.4 M825.5,133.4 V154.4 M826.5,144.9 V161.8 M828.5,144.2 V164.7 M830.5,147.6 V170 M832.5,143.9 V173.3 M834.5,136.5 V160.1 M836.5,140.1 V164.7 M838.5,137.5 V156.4 M840.5,138.2 V163.7 M841.5,140.8 V158.2 M843.5,138.6 V168.5 M845.5,107 V180 M847.5,123.6 V165.4 M849.5,148.5 V165.2 M851.5,148.6 V171.6 M853.5,149.6 V173.4 M855.5,157.4 V170.9 M856.5,157.6 V173.6 M858.5,157.6 V173.8 M860.5,152.4 V171.6 M862.5,161 V176.4 M864.5,161.8 V177.5 M866.5,160.3 V188.4 M868.5,160.9 V199.5 M870.5,192.3 V210.7 M871.5,201.1 V215.1 M873.5,197.5 V230.8 M875.5,204.4 V237.2 M877.5,196.2 V235 M879.5,200.8 V227.8 M881.5,179.8 V199.7 M883.5,177.8 V194.9 M885.5,175.8 V197.2 M886.5,167 V189.8 M888.5,168.6 V193.2 M890.5,170.8 V188.1 M892.5,173.9 V193.7 M894.5,177.3 V197 M896.5,184.4 V194.3 M898.5,165.7 V188.8 M900.5,158.6 V180.2 M901.5,150.7 V172.4 M903.5,154 V172.4 M905.5,153.1 V170.9 M907.5,152.8 V177.1 M909.5,147.7 V172.4 M911.5,153 V168 M913.5,146.9 V169.9 M915.5,148.8 V170.2 M916.5,121.8 V149.5 M918.5,118 V138.5 M920.5,108.3 V145 M922.5,118.9 V135.6 M924.5,112.8 V142.1 M926.5,153.3 V182.6 M928.5,156.5 V208 M930.5,178.5 V199.4 M931.5,182.8 V197.5 M933.5,183 V204.6 M935.5,183.6 V206.7 M937.5,180 V202 M939.5,186 V212.6 M941.5,165.6 V187.7 M943.5,168 V187.6 M945.5,164.8 V189.4 M946.5,170.6 V184.1 M948.5,164.6 V187.7 M950.5,171.6 V193.2 M952.5,172.8 V193.1 M954.5,170.9 V189.6 M956.5,171.5 V192.5 M958.5,173 V195.4 M960.5,179.2 V204.9 M961.5,181.5 V213.1 M963.5,176.9 V215.7 M965.5,183.6 V203.3 M967.5,184.3 V194.1 M969.5,181.8 V199.5 M971.5,181.4 V201.6 M973.5,182.9 V206 M975.5,191.5 V218.2 M976.5,197.6 V227.2 M978.5,201 V231.4 M980.5,204.3 V226.5 M982.5,209.5 V239.9 M984.5,208.6 V234.2 M986.5,212.8 V235 M988.5,210.8 V223.9 M990.5,208.5 V224.1 M991.5,225.3 V251.7 M993.5,237.4 V258.9 M995.5,248.8 V272.9 M997.5,253.3 V268.2 M999.5,256.8 V286.1 M1001.5,266.1 V290.6 M1003.5,269.4 V291.7 M1005.5,270.2 V295.7 M1006.5,261.6 V277.2 M1008.5,257.2 V280.3 M1010.5,258.7 V278.6 M1012.5,253.5 V278.6 M1014.5,253.5 V270.8 M1016.5,256.8 V270 M1018.5,246.6 V263.5 M1020.5,243 V267.5 M1021.5,249 V261.7 M1023.5,250 V262.6 M1025.5,252.4 V263.5 M1027.5,254 V264.4 M1029.5,250 V265.7 M1031.5,255.5 V265.3 M1033.5,257.3 V276.9 M1035.5,269.7 V293.8 M1036.5,268.9 V294.7 M1038.5,259 V276.9 M1040.5,258 V263 M1042.5,258 V266 M1044.5,250 V262.6 M1046.5,247.5 V258.5 M1048.5,244 V259.1 M1050.5,245.5 V260.8 M1051.5,245.7 V259.7 M1053.5,241.4 V257 M1055.5,234.5 V255.8 M1057.5,238.3 V262.8 M1059.5,232.4 V244.7 M1061.5,226.4 V236.5 M1063.5,218.7 V233.9 M1065.5,220.2 V239.3 M1066.5,223.3 V241.1 M1068.5,224.7 V240.4 M1070.5,224.1 V235.5 M1072.5,224.5 V238.9 M1074.5,222.8 V244.7 M1076.5,215.2 V240.5 M1078.5,219.6 V236.8 M1080.5,218 V231.8 M1081.5,214.4 V235.9 M1083.5,217.7 V236.2 M1085.5,196.8 V220.9 M1087.5,188.5 V211.6 M1089.5,184.5 V200.3 M1091.5,187.2 V204.7 M1093.5,187.7 V204.2 M1095.5,183.5 V201.6 M1096.5,184.5 V210.5 M1098.5,172.2 V184.8 M1100.5,169.9 V177.2 M1102.5,163 V177.1 M1104.5,155.9 V171.9 M1106.5,155.6 V167.6 M1108.5,154.5 V165.6 M1110.5,154.6 V162.6 M1111.5,149.2 V160.1 M1113.5,140.9 V159 M1115.5,141.3 V159.6 M1117.5,138.2 V154.6 M1119.5,137.3 V155.3 M1121.5,143.2 V157.1 M1123.5,137.4 V152.9 M1125.5,150.6 V165.8 M1126.5,153 V171.2 M1128.5,148.1 V171.7 M1130.5,145 V167.3 M1132.5,152.5 V170.3 M1134.5,143.1 V170.1 M1136.5,169 V181.1 M1138.5,171.2 V182.6 M1140.5,170.5 V186 M1141.5,190 V222.9 M1143.5,210.4 V232.1 M1145.5,219.1 V232.8 M1147.5,220 V238.6 M1149.5,219.4 V237.9 M1151.5,222.4 V237.4 M1153.5,220.8 V235.4 M1155.5,227.2 V240.5 M1156.5,228.2 V244.2 M1158.5,225.3 V244.8 M1160.5,215.7 V228.1 M1162.5,213.4 V229.9 M1164.5,212 V226.3 M1166.5,205 V218.7 M1168.5,204.3 V216.3 M1170.5,204.1 V213.9 M1171.5,203.6 V215.6 M1173.5,205.9 V216.2 M1175.5,204 V216.8 M1177.5,195 V210 M1179.5,193.4 V210 M1181.5,193.1 V209.8 M1183.5,194.3 V219.2 M1185.5,198.7 V211.7 M1186.5,201.6 V216.6 M1188.5,200.3 V218.1 M1190.5,204.7 V215.4 M1192.5,205.2 V215.5 M1194.5,201.7 V217.2 M1196.5,204.1 V216.6 M1198.5,202.9 V212 M1200.5,191.4 V205.8 M1201.5,198.5 V205.8 M1203.5,200.9 V209.5 M1205.5,202.5 V208.5 M1207.5,203.5 V207.5" stroke="#000" stroke-width="1" fill="none" shape-rendering="crispEdges"/>
<path d="M1212,204 L1286,143.5" stroke="#f44336" stroke-width="5" stroke-linecap="butt"/>
<path d="M1252,140 L1287,143.5 L1283.5,177" stroke="#f44336" stroke-width="4.5" fill="none" stroke-linejoin="round" stroke-linecap="butt"/>
<path d="M7.2,609 L9.5,627 L11.2,623.6 L14.6,622.7 L17.2,632 L21.5,659.7 L24,658.8 L28.4,660.5 L29.6,646 L31.8,649.4 L35.8,635.6 L37.8,646 L39.9,640.8 L42,640 L45.6,633 L47.3,634.8 L50.7,625.3 L53.3,632 L56.7,652.8 L60.2,654.5 L61.9,649.4 L65.3,651 L67.9,648.5 L73,633 L75.7,646.8 L78.2,648.5 L80.8,660.5 L84.2,661.4 L87.7,661.4 L91.1,656.3 L94.2,643.4 L96.3,647.7 L98,646 L101.8,657 L103.2,647.7 L107.5,640.8 L110,644.2 L113.5,638.2 L114.3,625.3 L116.9,627.9 L118.6,629.6 L122,648.5 L125.5,651 L128,653.7 L130.7,640 L134.1,639 L135.8,646 L138.4,645 L142.7,608 L145.3,607.2 L151.3,600.4 L153.9,616.7 L158.2,608 L160.8,608 L162.5,612.4 L164.2,609.8 L168.5,591 L172.8,585.4 L175.4,600.4 L179.7,601.2 L180.5,622.7 L183.1,611.5 L186.6,612.4 L189.1,625.3 L191.7,627 L194.3,616.7 L196,626 L198.6,621 L202,627.9 L205.5,613.3 L207.2,625.3 L210.6,627 L214.9,633 L221,626 L223.2,636.5 L224.4,622.7 L227,623.6 L228.7,615.8 L231.3,612.4 L232.1,606.4 L237.3,604.7 L239.3,610.7 L242.4,605.5 L246.7,622.7 L249.3,620 L252.7,624.4 L254.5,614 L257.9,609.8 L261.3,613.3 L264,625.3 L269,613.3 L272.5,633 L276.8,646.8 L280.3,641.6 L282.8,645 L286.3,640 L288.9,642.5 L292.3,630.5 L295.7,625.3 L298.3,640 L301.7,642.5 L303.1,654.5 L305.2,652 L307.2,640 L310.3,637.3 L312.9,643.4 L314.6,637.3 L317.2,637.3 L320.6,647.7 L323.2,643.4 L324.9,648.5 L328.4,642.5 L331,643.4 L332.7,646.8 L335.2,644.2 L339.5,633 L343,645 L347.3,628.7 L349.9,628.7 L353.3,646 L355,645 L358.5,658.8 L361,660.5 L366.2,648.5 L367.9,650.2 L370.5,646.8 L373.1,647.7 L380,658 L380.8,652.8 L383.4,656.3 L386.8,647.7 L391.1,635.6 L393.7,637.3 L395.4,649.4 L398,647.7 L402.3,636.5 L403.2,640 L406.6,635.6 L410,635.6 L413.5,632.2 L416.1,633 L420.4,608 L423,607.2 L428.1,603.8 L431.5,590 L435.8,584.9 L439.3,609 L441.8,605.5 L443.6,619.3 L446.2,620.1 L447,615.8 L449.6,618.4 L452.2,615 L455.6,617.6 L458.2,616.7 L461.6,604.7 L464.2,620.1 L465.9,615.8 L467.6,617.6 L469.4,612.4 L472.8,639 L475.4,638.2 L477.1,631.3 L480.5,627.9 L484,632.2 L488.3,622.7 L490.5,623.6 L492.6,610.7 L499.4,593.5 L502,613.3 L505.5,610.7 L506.3,642.5 L508.9,641.6 L511.5,623.6 L513.2,624.4 L515.8,615.8 L519.2,614.1 L520.9,628.7 L523.5,633.9 L525.2,652 L527.8,663.1 L530.4,660.5 L531.3,666.6 L534.7,670 L539,629.6 L540.7,632.2 L542.4,629.6 L545.9,629.6 L549.3,642.5 L552.8,635.6 L557,625.3 L560.5,628.7 L563.1,618.4 L565.6,614.1 L569.1,617.6 L571.7,627 L573.4,626.2 L576,628.7 L579.4,619.3 L582,621 L584.6,627 L587.1,627 L588,635.6 L590.6,631.3 L594,630.5 L595.7,637.3 L597.5,628.7 L600,634.8 L603.5,634.8 L609.5,621 L612,626.2 L613.8,622.7 L616.3,622.7 L617.2,631.3 L619.8,629.6 L624.1,640 L631,627.9 L634.4,646.8 L636.1,640.8 L638.2,650.2 L643,630.5 L645.6,633.9 L649,634.8 L650.7,635.6 L654.2,637.3 L660.2,620.1 L661.9,623.6 L664.5,622.7 L666.2,620.1 L669.6,616.7 L671.4,623.6 L675.7,621 L680.8,608 L685.1,616.7 L689.4,611.5 L692,623.6 L696.3,610.7 L699.7,597.8 L704.9,590.9 L705.7,586.6 L710,583.2 L711.8,592.6 L713.5,589.2 L715.7,593.5 L716.9,588.3 L721.2,584 L724.7,603.8 L726.4,640.8 L728.1,640 L730.7,632.2 L732.4,636.5 L735.8,623.6 L738.4,640 L740.1,636.5 L744.4,640.8 L746.1,640 L747.9,634.8 L749.6,640.8 L751.3,633 L754.7,631.3 L758.2,641.6 L760.8,641.6 L764.2,641.6 L765.9,637.3 L769.4,638.2 L771.9,633.9 L775.4,633 L777.1,638.2 L779.7,634.8 L780.5,650.2 L784,663.1 L787.4,662.3 L791.7,647.7 L794.3,650.2 L796.9,644.2 L800.3,640.8 L802,651 L804.6,647.7 L808,633 L811.5,646 L814.1,641.6 L816.6,643.4 L821.8,639 L823.5,633.9 L825.2,641.6 L829.5,640.8 L833,652.8 L834.7,655.4 L839.9,636.5 L841.6,638.2 L843.3,623.6 L845.9,625.3 L846.7,652 L849.3,647.7 L851.9,649.4 L854.5,642.5 L857.9,642.5 L861.3,647.7 L864.8,645 L866.5,657 L869.1,664 L871.7,663.1 L873.4,670.9 L875.1,670 L876.8,652.8 L881.1,644.2 L883.7,645 L885.4,635.6 L887.1,634.8 L888.9,644.2 L892.3,645 L894.9,647.7 L900.9,627.9 L903.4,631.3 L906,638.2 L909.5,631.3 L912,633.9 L917.2,624.4 L920.3,610.7 L924.1,627 L927.5,650.2 L930.1,647.7 L931.8,649.4 L934.4,649.4 L936.1,654.5 L939.5,650.2 L942.1,637.3 L945.6,642.5 L949.9,645 L951.6,648.5 L953.3,648.5 L954.7,633.9 L956.7,639 L959.3,649.4 L961.6,661.4 L966.2,646 L969.6,641.6 L972.2,647.7 L975.7,650.2 L978.2,661.4 L980.8,664 L983.4,659.7 L984.6,646.8 L989.4,648.5 L991.1,661.4 L994.6,670.9 L997.1,664.8 L998.9,670.9 L1001.4,672.6 L1004,675.2 L1005.7,658.8 L1008.3,655.4 L1013.5,652 L1015.2,652 L1016.9,646 L1020.4,646 L1023.8,652 L1026.4,647.7 L1028.1,651 L1030.7,647.7 L1034.1,665.7 L1038.4,643.4 L1041.9,643.4 L1043.6,637.3 L1045.3,639 L1047,632.2 L1049.6,642.5 L1053.9,640.8 L1058.2,621 L1060.8,627 L1064.2,620.1 L1067.6,632.2 L1069.4,627.9 L1072.8,628.7 L1076.2,637.3 L1079.7,625.3 L1080.5,632.2 L1083.1,629.6 L1087.4,614.1 L1090.9,612.4 L1093.4,625.3 L1096.9,616.7 L1098.6,609.8 L1102,609 L1105.5,606.4 L1108,606.4 L1109.8,602.1 L1112.3,603.8 L1116.6,601.2 L1119.2,605.5 L1120.9,603.8 L1123.2,631.3 L1126.1,621 L1127.8,623.6 L1130.4,626.2 L1132.1,622.7 L1135.6,639.9 L1138.1,644.2 L1139.9,661.4 L1143.3,673.4 L1145.9,662.3 L1150.2,664 L1153.6,661.4 L1155.3,663.1 L1157,667.4 L1158.8,659.7 L1161.3,653.7 L1167.4,643.4 L1171.7,640 L1174.2,641.6 L1176,640 L1176.8,628.7 L1179.4,627.9 L1182,639 L1185.4,640.8 L1187.1,645 L1189.7,643.4 L1193.1,648.5 L1197.5,640 L1198.3,627 L1200.9,636.5 L1203.5,638.2 L1205.2,637.3" stroke="#2196f3" stroke-width="1.3" fill="none" stroke-linejoin="round"/>
<path d="M6.5,6.5 H1794.5 V721.5 H6.5 Z M1714.5,6.5 V721.5 M6.5,571.5 H1794.5 M6.5,686.5 H1794.5" stroke="#50535e" stroke-width="1" fill="none"/>
<text x="1727" y="25.4" font-size="16.5" fill="#4c505b" textLength="52.5" lengthAdjust="spacingAndGlyphs">2100.00</text>
<text x="1727" y="90.4" font-size="16.5" fill="#4c505b" textLength="52.5" lengthAdjust="spacingAndGlyphs">2000.00</text>
<text x="1727" y="155.4" font-size="16.5" fill="#4c505b" textLength="52.5" lengthAdjust="spacingAndGlyphs">1900.00</text>
<text x="1727" y="220.4" font-size="16.5" fill="#4c505b" textLength="52.5" lengthAdjust="spacingAndGlyphs">1800.00</text>
<text x="1727" y="285.4" font-size="16.5" fill="#4c505b" textLength="52.5" lengthAdjust="spacingAndGlyphs">1700.00</text>
<text x="1727" y="350.4" font-size="16.5" fill="#4c505b" textLength="52.5" lengthAdjust="spacingAndGlyphs">1600.00</text>
<text x="1727" y="415.4" font-size="16.5" fill="#4c505b" textLength="52.5" lengthAdjust="spacingAndGlyphs">1500.00</text>
<text x="1727" y="480.4" font-size="16.5" fill="#4c505b" textLength="52.5" lengthAdjust="spacingAndGlyphs">1400.00</text>
<text x="1727" y="545.4" font-size="16.5" fill="#4c505b" textLength="52.5" lengthAdjust="spacingAndGlyphs">1300.00</text>
<text x="1727" y="609.2" font-size="16.5" fill="#4c505b" textLength="36.4" lengthAdjust="spacingAndGlyphs">75.00</text>
<text x="1727" y="683.2" font-size="16.5" fill="#4c505b" textLength="36.4" lengthAdjust="spacingAndGlyphs">25.00</text>
<path d="M1714,19.5 H1720 M1714,84.5 H1720 M1714,149.5 H1720 M1714,214.5 H1720 M1714,279.5 H1720 M1714,344.5 H1720 M1714,409.5 H1720 M1714,474.5 H1720 M1714,539.5 H1720 M1714,603.5 H1720 M1714,677.5 H1720 M60.5,686 V692 M181.5,686 V692 M306.5,686 V692 M428.5,686 V692 M551.5,686 V692 M672.5,686 V692 M797.5,686 V692 M919.5,686 V692 M1038.5,686 V692 M1161.5,686 V692 M1315.5,686 V692 M1489.5,686 V692 M1600.5,686 V692" stroke="#50535e" stroke-width="1"/>
<text x="60.5" y="709.3" font-size="15.5" fill="#4c505b" text-anchor="middle">Apr</text>
<text x="181.5" y="709.3" font-size="15.5" fill="#4c505b" text-anchor="middle">Jul</text>
<text x="306.5" y="709.3" font-size="15.5" fill="#4c505b" text-anchor="middle">Oct</text>
<text x="428.5" y="709.3" font-size="15.5" fill="#4c505b" text-anchor="middle" font-weight="bold">2020</text>
<text x="551.5" y="709.3" font-size="15.5" fill="#4c505b" text-anchor="middle">Apr</text>
<text x="672.5" y="709.3" font-size="15.5" fill="#4c505b" text-anchor="middle">Jul</text>
<text x="797.5" y="709.3" font-size="15.5" fill="#4c505b" text-anchor="middle">Oct</text>
<text x="919.5" y="709.3" font-size="15.5" fill="#4c505b" text-anchor="middle" font-weight="bold">2021</text>
<text x="1038.5" y="709.3" font-size="15.5" fill="#4c505b" text-anchor="middle">Apr</text>
<text x="1161.5" y="709.3" font-size="15.5" fill="#4c505b" text-anchor="middle">Jul</text>
<text x="1315.5" y="709.3" font-size="15.5" fill="#4c505b" text-anchor="middle">Oct</text>
<text x="1489.5" y="709.3" font-size="15.5" fill="#4c505b" text-anchor="middle" font-weight="bold">2022</text>
<text x="1600.5" y="709.3" font-size="15.5" fill="#4c505b" text-anchor="middle">Mar</text>
<path d="M1714,129 H1785.5 a2.5,2.5 0 0 1 2.5,2.5 V146.5 a2.5,2.5 0 0 1 -2.5,2.5 H1714 Z" fill="#f44336"/>
<path d="M1714,139.5 H1720" stroke="#fff" stroke-width="1" stroke-opacity="0.7"/>
<text x="1727" y="145.1" font-size="16" fill="#fff" textLength="52" lengthAdjust="spacingAndGlyphs">1916.00</text>
<path d="M1714,170.5 H1785.5 a2.5,2.5 0 0 1 2.5,2.5 V188 a2.5,2.5 0 0 1 -2.5,2.5 H1714 Z" fill="#f44336"/>
<path d="M1714,181 H1720" stroke="#fff" stroke-width="1" stroke-opacity="0.7"/>
<text x="1727" y="186.6" font-size="16" fill="#fff" textLength="52" lengthAdjust="spacingAndGlyphs">1853.00</text>
<path d="M1714,196 H1785.5 a2.5,2.5 0 0 1 2.5,2.5 V213.5 a2.5,2.5 0 0 1 -2.5,2.5 H1714 Z" fill="#000000"/>
<path d="M1714,206.5 H1720" stroke="#fff" stroke-width="1" stroke-opacity="0.7"/>
<text x="1727" y="212.1" font-size="16" fill="#fff" textLength="52" lengthAdjust="spacingAndGlyphs">1812.94</text>
<path d="M1714,237 H1785.5 a2.5,2.5 0 0 1 2.5,2.5 V254.5 a2.5,2.5 0 0 1 -2.5,2.5 H1714 Z" fill="#1c76d2"/>
<path d="M1714,247.5 H1720" stroke="#fff" stroke-width="1" stroke-opacity="0.7"/>
<text x="1727" y="253.1" font-size="16" fill="#fff" textLength="52" lengthAdjust="spacingAndGlyphs">1750.00</text>
<path d="M1714,284 H1785.5 a2.5,2.5 0 0 1 2.5,2.5 V301.5 a2.5,2.5 0 0 1 -2.5,2.5 H1714 Z" fill="#4caf50"/>
<path d="M1714,294.5 H1720" stroke="#fff" stroke-width="1" stroke-opacity="0.7"/>
<text x="1727" y="300.1" font-size="16" fill="#fff" textLength="52" lengthAdjust="spacingAndGlyphs">1677.00</text>
<text x="17.7" y="32.7" font-size="16" font-weight="bold" fill="#4a4d57" textLength="292.3" lengthAdjust="spacingAndGlyphs">Gold Spot / U.S. Dollar, 1D, FOREX.com</text>
<text x="17.7" y="53.7" font-size="16" fill="#4c505b" textLength="119" lengthAdjust="spacingAndGlyphs">MA (50, close, 0)</text>
<text x="17.7" y="74.3" font-size="16" fill="#4c505b" textLength="119" lengthAdjust="spacingAndGlyphs">MA (20, close, 0)</text>
<text x="17.7" y="95" font-size="16" fill="#4c505b" textLength="130.7" lengthAdjust="spacingAndGlyphs">BB (20, close, 2, 0)</text>
<text x="17.2" y="597.8" font-size="16" fill="#4c505b" textLength="100.6" lengthAdjust="spacingAndGlyphs">RSI (14, close)</text>
<rect x="1311" y="507" width="400" height="63.5" fill="#ffffff"/>
<g fill="#073a4f">
<path d="M1312.9,510 H1358.2 V523.7 H1328.7 V533.7 H1355.6 V546.9 H1328.7 V567.4 H1312.9 Z"/>
<path d="M1435.1,510.2 H1467 C1480,510.2 1486,518 1486,530 C1486,540 1481,546.5 1473,549.2 L1487.4,567.4 H1469.5 L1456.5,549.5 H1450.5 V567.4 H1435.1 Z M1450.5,523.7 V537.9 H1465 C1469.5,537.9 1471,534.5 1471,530.8 C1471,527 1469.5,523.7 1465,523.7 Z" fill-rule="evenodd"/>
<path d="M1493.8,510.2 H1540.1 V523.7 H1509.6 V532.7 H1537 V544.8 H1509.6 V554.3 H1540.1 V567.4 H1493.8 Z"/>
<path d="M1546.4,510.2 H1564.4 L1574.4,525.8 L1583.8,510.2 H1602.3 L1583.8,538.5 L1603,567.4 H1585.4 L1574.4,550.6 L1563.3,567.4 H1545.9 L1565.2,538.5 Z"/>
<circle cx="1612.1" cy="547.2" r="4.2"/>
<path d="M1641,531.5 C1638,529 1634.5,528.1 1631,528.1 C1624,528.1 1619.1,533.5 1619.1,540 C1619.1,546.5 1624,552 1631,552 C1634.5,552 1638,551 1641,548.3 L1636.5,543.7 C1635,545.3 1633.2,546.2 1631.3,546.2 C1628.2,546.2 1626.5,543.5 1626.5,540 C1626.5,536.5 1628.2,534.8 1631.3,534.8 C1633.2,534.8 1635,535.6 1636.5,537.2 Z"/>
<path d="M1656,528.1 A12.6,12 0 1 1 1656,552 A12.6,12 0 1 1 1656,528.1 Z M1656,534.8 A5.2,5.4 0 1 0 1656,545.6 A5.2,5.4 0 1 0 1656,534.8 Z" fill-rule="evenodd"/>
<path d="M1672.4,529 H1680 V531.5 C1681.5,529.3 1683.8,528.1 1686.5,528.1 C1689.5,528.1 1692,529.5 1693.2,532 C1694.8,529.5 1697.5,528.1 1700.5,528.1 C1705.8,528.1 1709,531.5 1709,537 V551.7 H1701.4 V538 C1701.4,536 1700.5,534.8 1698.2,534.8 C1696,534.8 1694.4,536.2 1694.4,538.5 V551.7 H1687 V538 C1687,536 1686,534.8 1683.8,534.8 C1681.6,534.8 1680,536.2 1680,538.5 V551.7 H1672.4 Z"/>
</g>
<path d="M1392,509 A29.4,30 0 1 1 1392,569 A29.4,30 0 1 1 1392,509 Z M1392.2,517 C1397.3,517 1404.6,525 1404.6,539 C1404.6,553 1397.3,561 1392.2,561 C1387.1,561 1379.8,553 1379.8,539 C1379.8,525 1387.1,517 1392.2,517 Z" fill="#0db45a" fill-rule="evenodd"/>
<path d="M1396,531.6 H1430 L1428.5,537.4 H1394.5 Z M1394.5,542.2 H1428.3 L1426.8,547.4 H1393 Z" fill="#0db45a"/>
</svg></body></html>
